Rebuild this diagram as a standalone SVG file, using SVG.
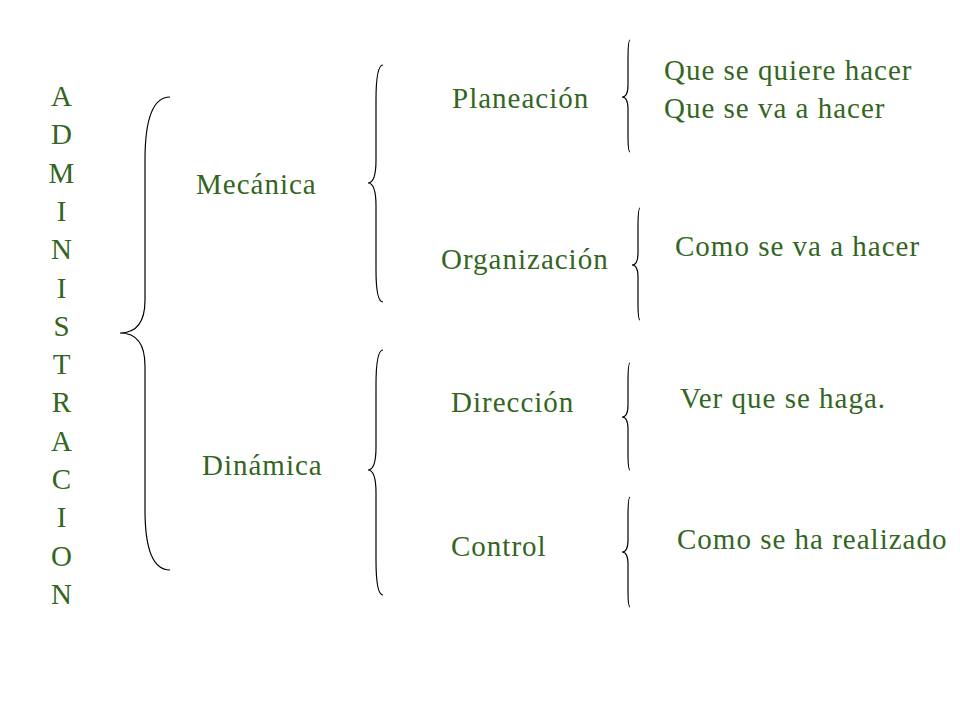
<svg xmlns="http://www.w3.org/2000/svg" width="960" height="720" viewBox="0 0 960 720">
<style>
text{font-family:"Liberation Serif","Times New Roman",serif;font-size:29px;letter-spacing:1px;fill:#336622}
.b{fill:none;stroke:#000;stroke-width:1.2}
</style>
<rect width="960" height="720" fill="#fff"/>
<g id="connectors">
<path class="b" d="M170 97 Q145 97 145 160 L145 300 Q145 333 120 333 Q145 333 145 366 L145 510 Q145 570 170 570"/>
<path class="b" d="M383 65 Q376 65 376 100 L376 160 Q376 183 368 183 Q376 183 376 206 L376 270 Q376 302 383 302"/>
<path class="b" d="M383 350 Q376 350 376 385 L376 447 Q376 470 368 470 Q376 470 376 493 L376 560 Q376 595 383 595"/>
<path class="b" d="M630 40 Q628 40 628 60 L628 85 Q628 97 622 97 Q628 97 628 109 L628 135 Q628 152 630 152"/>
<path class="b" d="M640 208 Q638 208 638 228 L638 253 Q638 265 632 265 Q638 265 638 277 L638 303 Q638 320 640 320"/>
<path class="b" d="M630 363 Q628 363 628 383 L628 405 Q628 417 622 417 Q628 417 628 429 L628 453 Q628 470 630 470"/>
<path class="b" d="M630 497 Q628 497 628 517 L628 540 Q628 552 622 552 Q628 552 628 564 L628 590 Q628 607 630 607"/>
</g>
<g id="admin" text-anchor="middle">
<text x="62" y="106">A</text><text x="62" y="144">D</text><text x="62" y="183">M</text><text x="62" y="221">I</text><text x="62" y="259">N</text><text x="62" y="298">I</text><text x="62" y="336">S</text><text x="62" y="374">T</text><text x="62" y="412">R</text><text x="62" y="451">A</text><text x="62" y="489">C</text><text x="62" y="527">I</text><text x="62" y="566">O</text><text x="62" y="604">N</text>
</g>
<g id="mecanica"><text x="196" y="194">Mecánica</text></g>
<g id="dinamica"><text x="202" y="475">Dinámica</text></g>
<g id="planeacion"><text x="452" y="108">Planeación</text></g>
<g id="organizacion"><text x="441" y="269">Organización</text></g>
<g id="direccion"><text x="451" y="412">Dirección</text></g>
<g id="control"><text x="451" y="556">Control</text></g>
<g id="t1"><text x="664" y="80">Que se quiere hacer</text><text x="664" y="118">Que se va a hacer</text></g>
<g id="t2"><text x="675" y="256">Como se va a hacer</text></g>
<g id="t3"><text x="680" y="408">Ver que se haga.</text></g>
<g id="t4"><text x="677" y="549">Como se ha realizado</text></g>
</svg>
